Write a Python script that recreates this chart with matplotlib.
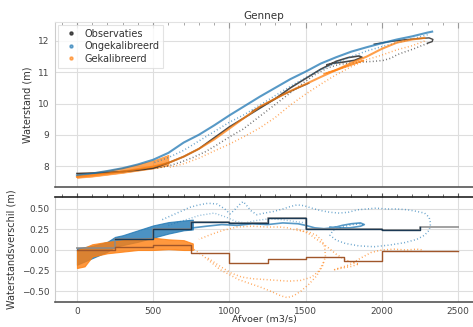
import matplotlib
matplotlib.use('Agg')
import matplotlib.pyplot as plt
from matplotlib.lines import Line2D
from matplotlib.ticker import MultipleLocator
import numpy as np

# --- Data ---

# top panel: waterstand (m) against afvoer (m3/s)
obs_rise_q = [0, 100, 200, 300, 400, 500, 600, 700, 800, 900, 1000, 1100, 1200, 1300, 1400, 1500, 1600,
              1650, 1700, 1780, 1850, 1870, 1820, 1740, 1670, 1640]
obs_rise_h = [7.76, 7.77, 7.79, 7.82, 7.87, 7.93, 8.1, 8.3, 8.55, 8.9, 9.25, 9.55, 9.85, 10.15, 10.5, 10.8, 11.1,
              11.22, 11.35, 11.47, 11.52, 11.48, 11.38, 11.32, 11.28, 11.24]
obs_peak_q = [1950, 2050, 2150, 2250, 2310, 2335, 2330, 2300]
obs_peak_h = [11.9, 11.98, 12.04, 12.08, 12.1, 12.05, 11.98, 11.93]
obs_fall_q = [2300, 2260, 2210, 2150, 2100, 2060, 2010, 1950, 1880, 1800, 1720, 1650, 1570, 1490, 1410,
              1330, 1250, 1170, 1090, 1000, 920, 840, 760, 680, 600, 520]
obs_fall_h = [11.92, 11.85, 11.75, 11.65, 11.56, 11.45, 11.38, 11.35, 11.33, 11.3, 11.25, 11.15, 10.95, 10.68,
              10.38, 10.08, 9.78, 9.48, 9.18, 8.93, 8.68, 8.45, 8.27, 8.12, 8.0, 7.93]
obs_spur_q = [1150, 1250, 1350, 1450, 1520]
obs_spur_h = [9.75, 10.02, 10.28, 10.5, 10.65]

ongek_rise_q = [0, 100, 200, 300, 400, 500, 600, 700, 800, 900, 1000, 1100, 1200, 1300, 1400, 1500, 1600,
                1700, 1800, 1900, 2000, 2100, 2200, 2300, 2330]
ongek_rise_h = [7.7, 7.76, 7.84, 7.93, 8.05, 8.2, 8.42, 8.75, 9.0, 9.3, 9.62, 9.92, 10.22, 10.5, 10.78, 11.02,
                11.28, 11.48, 11.66, 11.8, 11.93, 12.05, 12.15, 12.27, 12.3]
ongek_fall_q = [2300, 2200, 2100, 2000, 1900, 1800, 1700, 1600, 1500, 1400, 1300, 1200, 1100, 1000, 900, 800,
                700, 600, 500]
ongek_fall_h = [12.2, 12.07, 11.95, 11.82, 11.68, 11.5, 11.3, 11.08, 10.83, 10.55, 10.25, 9.95, 9.65, 9.4, 9.1,
                8.8, 8.5, 8.27, 8.1]

gek_rise_q = [0, 100, 200, 300, 400, 500, 600, 700, 800, 900, 1000, 1100, 1200, 1300, 1400, 1500, 1600, 1700,
              1800, 1900, 2000, 2100, 2200, 2280]
gek_rise_h = [7.65, 7.7, 7.76, 7.82, 7.9, 7.98, 8.1, 8.3, 8.55, 8.85, 9.2, 9.55, 9.9, 10.15, 10.4, 10.62, 10.85,
              11.07, 11.3, 11.5, 11.75, 11.95, 12.05, 12.1]
gek_fall_q = [2280, 2200, 2100, 2000, 1900, 1800, 1700, 1600, 1500, 1400, 1300, 1200, 1100, 1000, 900, 800,
              700, 600]
gek_fall_h = [12.0, 11.85, 11.72, 11.55, 11.4, 11.18, 10.92, 10.62, 10.3, 9.95, 9.55, 9.22, 8.95, 8.7, 8.48,
              8.25, 8.07, 7.95]
gek_loop_q = [1620, 1680, 1740, 1800, 1860, 1880, 1840, 1770, 1700, 1640]
gek_loop_h = [10.95, 11.05, 11.15, 11.25, 11.35, 11.38, 11.3, 11.18, 11.06, 10.98]

# dense low-discharge band (lower and upper edge)
low_q = [0, 100, 200, 300, 400, 500, 600]
low_lo = [7.62, 7.66, 7.72, 7.78, 7.85, 7.92, 8.02]
low_hi = [7.78, 7.8, 7.86, 7.95, 8.06, 8.18, 8.36]

# bottom panel: waterstandsverschil (m) against afvoer (m3/s)
ongek_cloud_q = [0, 100, 200, 250, 300, 400, 500, 600, 700, 760]
ongek_cloud_lo = [-0.18, -0.1, -0.02, 0.04, 0.06, 0.1, 0.15, 0.2, 0.24, 0.25]
ongek_cloud_hi = [0.02, 0.05, 0.1, 0.16, 0.18, 0.24, 0.3, 0.34, 0.36, 0.37]
ongek_up_q = [560, 620, 680, 740, 800, 860, 920, 970, 1004, 1040, 1070, 1090, 1110, 1140, 1180, 1230, 1290,
              1350, 1400, 1444, 1490, 1540, 1600, 1660, 1720, 1780, 1840, 1900, 1960, 2030, 2100, 2170, 2230,
              2280, 2310, 2320, 2310, 2280, 2230, 2150, 2050, 1950, 1850, 1760, 1700, 1660, 1680, 1740, 1810,
              1870, 1880]
ongek_up_d = [0.37, 0.42, 0.47, 0.52, 0.55, 0.57, 0.56, 0.5, 0.44, 0.5, 0.56, 0.59, 0.55, 0.48, 0.43, 0.45,
              0.47, 0.5, 0.53, 0.55, 0.54, 0.51, 0.48, 0.46, 0.45, 0.46, 0.49, 0.5, 0.51, 0.5, 0.5, 0.49, 0.47,
              0.45, 0.4, 0.32, 0.24, 0.18, 0.13, 0.09, 0.06, 0.04, 0.05, 0.08, 0.12, 0.18, 0.24, 0.28, 0.31,
              0.32, 0.3]
ongek_mid_q = [760, 850, 950, 1050, 1150, 1250, 1350, 1450, 1500, 1560, 1620, 1680, 1740, 1800, 1860, 1885,
               1860, 1790, 1720, 1660]
ongek_mid_d = [0.27, 0.29, 0.31, 0.3, 0.32, 0.31, 0.33, 0.32, 0.3, 0.27, 0.26, 0.27, 0.3, 0.32, 0.33, 0.31,
               0.29, 0.27, 0.27, 0.28]
ongek_mid2_q = [600, 700, 800, 900, 980, 1040, 1100, 1180, 1260, 1340, 1420, 1500]
ongek_mid2_d = [0.3, 0.36, 0.42, 0.45, 0.4, 0.35, 0.33, 0.36, 0.38, 0.37, 0.35, 0.33]

gek_cloud_q = [0, 50, 100, 200, 300, 400, 500, 600, 700, 760]
gek_cloud_lo = [-0.22, -0.2, -0.08, -0.04, -0.02, 0.0, 0.0, 0.01, 0.0, 0.0]
gek_cloud_hi = [0.0, 0.03, 0.07, 0.1, 0.12, 0.13, 0.15, 0.13, 0.12, 0.08]
gek_a_q = [750, 820, 880, 940, 1000, 1060, 1120, 1200, 1280, 1340, 1378, 1420, 1470, 1520, 1570, 1610, 1630,
           1625, 1605, 1570, 1520, 1444, 1380, 1330, 1250, 1150, 1050, 960, 880, 800]
gek_a_d = [0.03, -0.06, -0.15, -0.24, -0.3, -0.36, -0.4, -0.45, -0.51, -0.56, -0.58, -0.56, -0.5, -0.42, -0.32,
           -0.2, -0.08, 0.04, 0.12, 0.18, 0.22, 0.24, 0.27, 0.28, 0.28, 0.29, 0.28, 0.24, 0.19, 0.13]
gek_b_q = [860, 940, 1010, 1080, 1150, 1230, 1310, 1390, 1470, 1540, 1590, 1620]
gek_b_d = [-0.1, -0.2, -0.28, -0.33, -0.35, -0.36, -0.37, -0.38, -0.37, -0.33, -0.25, -0.14]
gek_c_q = [1440, 1520, 1580, 1640, 1700, 1760, 1820, 1850, 1800, 1740, 1690, 1720, 1790, 1860, 1930, 2000,
           2080, 2160, 2230, 2270]
gek_c_d = [0.26, 0.2, 0.12, 0.04, -0.05, -0.12, -0.16, -0.17, -0.2, -0.22, -0.24, -0.22, -0.18, -0.1, -0.03,
           0.0, 0.01, 0.0, 0.01, 0.0]

# binned mean difference per 250 m3/s
bin_edges = [0, 250, 500, 750, 1000, 1250, 1500, 1750, 2000, 2250, 2500]
ongek_step = [0.02, 0.13, 0.25, 0.345, 0.33, 0.385, 0.26, 0.26, 0.245, 0.275]
gek_step = [0.0, 0.04, 0.055, -0.04, -0.16, -0.115, -0.08, -0.135, -0.01, -0.01]

# --- Style ---
plt.rcParams['font.family'] = 'DejaVu Sans'
plt.rcParams['text.color'] = '#333333'
plt.rcParams['axes.labelcolor'] = '#333333'
plt.rcParams['xtick.color'] = '#444444'
plt.rcParams['ytick.color'] = '#444444'

c_obs = '#2a2a2a'
c_ongek = '#1f77b4'
c_gek = '#ff7f0e'
dots = (0, (0.6, 1.6))

fig = plt.figure(figsize=(4.73, 3.27), dpi=100)
ax1 = fig.add_axes([55 / 473, 1 - 187 / 327, 418 / 473, 165 / 327])
ax2 = fig.add_axes([55 / 473, 1 - 302 / 327, 418 / 473, 105 / 327], sharex=ax1)

# --- Top panel ---
ax1.plot(obs_rise_q, obs_rise_h, color=c_obs, lw=1.2, alpha=0.85)
ax1.plot(obs_peak_q, obs_peak_h, color=c_obs, lw=1.0, alpha=0.85)
ax1.plot(obs_fall_q, obs_fall_h, color=c_obs, lw=1.1, ls=dots, alpha=0.7)
ax1.plot(obs_spur_q, obs_spur_h, color=c_obs, lw=1.1, alpha=0.85)

ax1.plot(ongek_rise_q, ongek_rise_h, color=c_ongek, lw=1.5, alpha=0.75)
ax1.plot(ongek_fall_q, ongek_fall_h, color=c_ongek, lw=1.1, ls=dots, alpha=0.7)

ax1.fill_between(low_q, low_lo, low_hi, color=c_gek, alpha=0.7, lw=0.5)
ax1.plot(gek_rise_q, gek_rise_h, color=c_gek, lw=1.5, alpha=0.75)
ax1.plot(gek_fall_q, gek_fall_h, color=c_gek, lw=1.1, ls=dots, alpha=0.7)
ax1.plot(gek_loop_q, gek_loop_h, color=c_gek, lw=1.0, alpha=0.8)

ax1.set_xlim(-144, 2598)
ax1.set_ylim(7.328, 12.608)
ax1.set_yticks([8, 9, 10, 11, 12])
ax1.set_ylabel('Waterstand (m)', fontsize=7)
ax1.set_title('Gennep', fontsize=7.5, color='#333333', pad=2)

handles = [Line2D([], [], ls='', marker='o', markersize=2.2, color=c_obs, alpha=0.8),
           Line2D([], [], ls='', marker='o', markersize=2.2, color=c_ongek, alpha=0.6),
           Line2D([], [], ls='', marker='o', markersize=2.2, color=c_gek, alpha=0.6)]
leg = ax1.legend(handles, ['Observaties', 'Ongekalibreerd', 'Gekalibreerd'], loc='upper left',
                 fontsize=7, frameon=True, fancybox=False, borderaxespad=0.3, handletextpad=0.5,
                 handlelength=1.8, labelspacing=0.25, borderpad=0.4)
leg.get_frame().set_edgecolor('#dddddd')
leg.get_frame().set_linewidth(0.8)

# --- Bottom panel ---
ax2.fill_between(ongek_cloud_q, ongek_cloud_lo, ongek_cloud_hi, color=c_ongek, alpha=0.8, lw=0.8)
ax2.plot(ongek_up_q, ongek_up_d, color=c_ongek, lw=1.1, ls=dots, alpha=0.7)
ax2.plot(ongek_mid_q, ongek_mid_d, color=c_ongek, lw=1.2, alpha=0.75)
ax2.plot(ongek_mid2_q, ongek_mid2_d, color=c_ongek, lw=1.0, ls=dots, alpha=0.6)

ax2.fill_between(gek_cloud_q, gek_cloud_lo, gek_cloud_hi, color=c_gek, alpha=0.8, lw=0.8)
ax2.plot(gek_a_q, gek_a_d, color=c_gek, lw=1.1, ls=dots, alpha=0.7)
ax2.plot(gek_b_q, gek_b_d, color=c_gek, lw=1.1, ls=dots, alpha=0.7)
ax2.plot(gek_c_q, gek_c_d, color=c_gek, lw=1.1, ls=dots, alpha=0.75)

edges = np.array(bin_edges)
ongek_vals = np.append(ongek_step, ongek_step[-1])
gek_vals = np.append(gek_step, gek_step[-1])
ax2.step(edges, ongek_vals, where='post', color='#8a8a8a', lw=1.4, alpha=0.8)
ax2.step(edges[1:-1], ongek_vals[1:-1], where='post', color='#1b3954', lw=1.0)
ax2.step(edges, gek_vals, where='post', color='#a0562a', lw=1.0)

ax2.set_ylim(-0.634, 0.646)
ax2.set_yticks([-0.5, -0.25, 0.0, 0.25, 0.5])
ax2.set_yticklabels(['\u22120.50', '\u22120.25', '0.00', '0.25', '0.50'])
ax2.set_xticks([0, 500, 1000, 1500, 2000, 2500])
ax2.set_ylabel('Waterstandsverschil (m)', fontsize=7)
ax2.set_xlabel('Afvoer (m3/s)', fontsize=6.8)
ax2.xaxis.set_label_coords(0.5, -0.125)

# --- Axes styling ---
for ax in (ax1, ax2):
    ax.set_facecolor('white')
    ax.set_axisbelow(True)
    ax.grid(True, which='major', color='#dedede', lw=0.8)
    ax.xaxis.set_minor_locator(MultipleLocator(100))
    ax.spines['right'].set_visible(False)
    ax.spines['left'].set_color('#cccccc')
    ax.spines['left'].set_linewidth(0.8)
    ax.spines['bottom'].set_color('#555555')
    ax.spines['bottom'].set_linewidth(1.2)
    ax.tick_params(axis='y', length=0, labelsize=6.5, pad=4)

ax1.spines['top'].set_color('#e2e2e2')
ax1.spines['top'].set_linewidth(0.8)
ax1.tick_params(axis='x', which='both', bottom=False, labelbottom=False, top=True, direction='in',
                color='#999999')
ax1.tick_params(axis='x', which='major', length=4)
ax1.tick_params(axis='x', which='minor', length=2.5)

ax2.spines['top'].set_color('#222222')
ax2.spines['top'].set_linewidth(1.2)
ax2.tick_params(axis='x', which='both', bottom=False, top=True, labelbottom=True, labeltop=False,
                direction='out', color='#555555', labelsize=6.5, pad=0.8)
ax2.tick_params(axis='x', which='major', length=3)
ax2.tick_params(axis='x', which='minor', length=2)

fig.savefig('out.png', dpi=100)
